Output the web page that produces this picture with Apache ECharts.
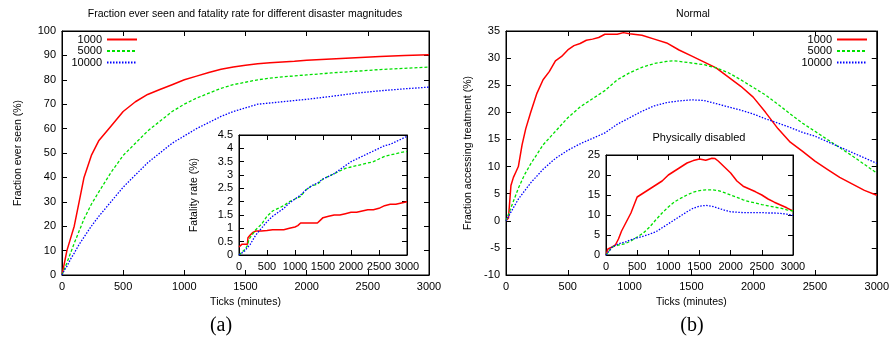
<!DOCTYPE html>
<html>
<head>
<meta charset="utf-8">
<script src="https://cdn.jsdelivr.net/npm/echarts@6/dist/echarts.min.js"></script>
<style>
    html, body { margin: 0; padding: 0; background: #fff; }
    #chart { width: 892px; height: 343px; }
</style>
</head>
<body>
<div id="chart"></div>
<script>
// (a) fraction ever seen, [ticks, %]
const seen1000 = [[0,0],[20,5],[40,10],[70,15],[100,20],[140,30],[180,40],[240,49],[300,55],[400,61],[500,67],[600,71],[700,74],[800,76],[900,78],[1000,80],[1100,81.5],[1200,83],[1300,84.3],[1400,85.2],[1500,86],[1600,86.6],[1700,87],[1800,87.3],[1900,87.6],[2000,88],[2200,88.5],[2400,89],[2600,89.5],[2800,90],[3000,90.3]];
const seen5000 = [[0,0],[20,2.5],[40,5],[70,9],[100,13],[140,18],[180,23],[240,29],[300,34],[400,42],[500,49],[600,54],[700,59],[800,63],[900,67],[1000,70],[1100,72.5],[1200,74.5],[1300,76.5],[1400,78],[1500,79],[1600,80],[1700,80.7],[1800,81.2],[1900,81.6],[2000,82],[2200,82.8],[2400,83.5],[2600,84.2],[2800,84.7],[3000,85.2]];
const seen10000 = [[0,0],[20,2],[40,3.5],[70,6.5],[100,9],[140,12.5],[180,15.5],[240,20],[300,24],[400,30],[500,36],[600,41],[700,46],[800,50],[900,54],[1000,57],[1100,60],[1200,62.5],[1300,65],[1400,67],[1500,68.5],[1600,70],[1700,70.5],[1800,71],[1900,71.5],[2000,72],[2200,73.2],[2400,74.5],[2600,75.5],[2800,76.3],[3000,77]];

// (a) inset: fatality rate
const fatal1000 = [[0,0.3],[20,0.35],[50,0.4],[150,0.4],[160,0.65],[200,0.75],[250,0.85],[300,0.9],[400,0.9],[500,0.92],[600,0.95],[800,0.95],[900,1.0],[1000,1.05],[1050,1.1],[1100,1.2],[1200,1.2],[1400,1.2],[1450,1.3],[1500,1.4],[1600,1.45],[1700,1.5],[1800,1.5],[1900,1.55],[2000,1.6],[2100,1.6],[2200,1.65],[2300,1.7],[2400,1.7],[2500,1.75],[2600,1.85],[2700,1.9],[2800,1.9],[2900,1.95],[3000,2.0]];
const fatal5000 = [[0,0],[100,0.2],[150,0.35],[180,0.6],[250,0.8],[300,0.95],[400,1.15],[500,1.45],[600,1.65],[700,1.75],[800,1.85],[900,2.0],[1000,2.1],[1100,2.2],[1200,2.45],[1300,2.6],[1400,2.65],[1500,2.85],[1600,2.95],[1700,3.05],[1800,3.15],[1900,3.25],[2000,3.3],[2100,3.35],[2200,3.4],[2300,3.45],[2400,3.5],[2500,3.6],[2600,3.7],[2700,3.75],[2800,3.8],[2900,3.85],[3000,3.88]];
const fatal10000 = [[0,0],[100,0.15],[200,0.4],[300,0.75],[400,1.0],[500,1.25],[600,1.45],[700,1.6],[800,1.75],[900,1.95],[1000,2.1],[1100,2.25],[1200,2.45],[1300,2.6],[1400,2.7],[1500,2.85],[1600,2.95],[1700,3.05],[1800,3.2],[1900,3.35],[2000,3.5],[2100,3.6],[2200,3.7],[2300,3.8],[2400,3.9],[2500,4.0],[2600,4.1],[2700,4.15],[2800,4.25],[2900,4.35],[3000,4.45]];

// (b) normal: fraction accessing treatment
const normal1000 = [[0,0],[20,0.5],[40,6.5],[60,8],[80,9],[100,10],[130,14],[160,17],[200,20],[250,23.5],[300,26],[350,27.5],[400,29.5],[450,30.3],[500,31.5],[550,32.3],[600,32.7],[650,33.3],[700,33.5],[750,33.8],[800,34.4],[900,34.4],[950,34.7],[1000,34.5],[1100,34.2],[1200,33.5],[1300,32.8],[1400,31.5],[1500,30.4],[1600,29.3],[1700,28.2],[1800,26.5],[1900,24.8],[2000,22.8],[2100,20],[2200,17],[2300,14.5],[2400,12.8],[2500,11],[2600,9.5],[2700,8],[2800,6.8],[2900,5.6],[3000,4.7]];
const normal5000 = [[0,0],[50,3],[100,6],[150,8.5],[200,10.5],[300,14],[400,16.5],[500,19],[600,21],[700,22.5],[800,24],[900,26],[1000,27.3],[1100,28.3],[1200,29],[1300,29.4],[1350,29.5],[1400,29.4],[1500,29.1],[1600,28.8],[1700,28.2],[1800,27.3],[1900,26],[2000,24.6],[2100,23.2],[2200,21.5],[2300,19.7],[2400,18],[2500,16.5],[2600,15],[2700,13.5],[2800,12],[2900,10.4],[3000,8.8]];
const normal10000 = [[0,0],[50,2],[100,4],[200,7],[300,9.5],[400,11.5],[500,13],[600,14.2],[700,15.2],[800,16.2],[900,17.8],[1000,19],[1100,20.2],[1200,21.2],[1300,21.8],[1400,22.1],[1500,22.3],[1600,22.2],[1700,21.6],[1800,21],[1900,20.4],[2000,19.7],[2100,18.8],[2200,18],[2300,17.2],[2400,16.3],[2500,15.6],[2600,14.6],[2700,13.6],[2800,12.6],[2900,11.6],[3000,10.6]];

// (b) inset: physically disabled
const disabled1000 = [[0,0],[30,1.5],[60,2],[100,2],[150,2.5],[200,4],[250,6],[300,7.5],[350,9],[400,10.5],[450,12.5],[500,14.5],[550,15],[600,15.5],[700,16.5],[800,17.5],[900,18.5],[1000,20],[1100,21],[1200,22],[1300,23],[1400,23.6],[1500,24],[1600,23.7],[1700,24.2],[1750,24.1],[1800,23.5],[1900,22],[2000,20.5],[2100,18.5],[2200,17.2],[2300,16.5],[2400,15.8],[2500,15],[2600,14],[2700,13.2],[2800,12.5],[2900,11.8],[3000,11]];
const disabled5000 = [[0,0],[100,2],[200,2.5],[300,2.8],[400,3.5],[500,4.5],[600,5.5],[700,7],[800,8.8],[900,10.5],[1000,12],[1100,13.3],[1200,14.2],[1300,15],[1400,15.7],[1500,16.1],[1600,16.3],[1700,16.3],[1800,16.1],[1900,15.6],[2000,15],[2100,14.4],[2200,13.8],[2300,13.3],[2400,13],[2500,12.6],[2600,12.3],[2700,12],[2800,11.7],[2900,11.3],[3000,11]];
const disabled10000 = [[0,0],[100,2],[200,2.8],[300,3.2],[400,3.8],[500,4.3],[600,4.7],[700,5.2],[800,5.8],[900,6.8],[1000,7.8],[1100,8.8],[1200,9.8],[1300,10.8],[1400,11.7],[1500,12.2],[1600,12.4],[1700,12.2],[1800,11.7],[1900,11.2],[2000,10.8],[2100,10.7],[2200,10.6],[2300,10.6],[2400,10.6],[2500,10.6],[2600,10.5],[2700,10.5],[2800,10.4],[2900,10.2],[3000,9.9]];

const names = ['1000', '5000', '10000'];

const FONT = '"Liberation Sans", Arial, sans-serif';
const lineStyles = [
    { color: '#ff0000', width: 1.5, type: 'solid' },
    { color: '#00e000', width: 1.3, type: [3, 2] },
    { color: '#0000ff', width: 1.3, type: [1.5, 1.5] }
];

const grids = [
    { left: 62, top: 31, width: 367, height: 244 },
    { left: 239, top: 135, width: 168, height: 120 },
    { left: 506, top: 31, width: 375, height: 244 },
    { left: 606, top: 155, width: 187, height: 100 }
];

const plain = function (v) { return String(v); };

function makeX(g, top, name) {
    return {
        type: 'value', gridIndex: g, min: 0, max: 3000, interval: 500,
        position: top ? 'top' : 'bottom',
        axisLine: { show: true, onZero: false, lineStyle: { color: '#000', width: 1 } },
        axisTick: { show: true, inside: true, length: 5, lineStyle: { color: '#000' } },
        axisLabel: { show: !top, color: '#000', fontSize: 11, fontFamily: FONT, margin: 6, formatter: plain },
        splitLine: { show: false },
        name: top ? '' : (name || ''), nameLocation: 'middle', nameGap: 22,
        nameTextStyle: { color: '#000', fontSize: 10.5, fontFamily: FONT }
    };
}

function makeY(g, right, min, max, interval, name, gap) {
    return {
        type: 'value', gridIndex: g, min: min, max: max, interval: interval,
        position: right ? 'right' : 'left',
        axisLine: { show: true, onZero: false, lineStyle: { color: '#000', width: 1 } },
        axisTick: { show: true, inside: true, length: 5, lineStyle: { color: '#000' } },
        axisLabel: { show: !right, color: '#000', fontSize: 11, fontFamily: FONT, margin: 6, formatter: plain },
        splitLine: { show: false },
        name: right ? '' : (name || ''), nameLocation: 'middle', nameGap: gap || 30,
        nameTextStyle: { color: '#000', fontSize: 10.5, fontFamily: FONT }
    };
}

const xAxes = [
    makeX(0, false, 'Ticks (minutes)'), makeX(0, true),
    makeX(1, false), makeX(1, true),
    makeX(2, false, 'Ticks (minutes)'), makeX(2, true),
    makeX(3, false), makeX(3, true)
];
const yAxes = [
    makeY(0, false, 0, 100, 10, 'Fraction ever seen (%)', 38), makeY(0, true, 0, 100, 10),
    makeY(1, false, 0, 4.5, 0.5, 'Fatality rate (%)', 39), makeY(1, true, 0, 4.5, 0.5),
    makeY(2, false, -10, 35, 5, 'Fraction accessing treatment (%)', 32), makeY(2, true, -10, 35, 5),
    makeY(3, false, 0, 25, 5), makeY(3, true, 0, 25, 5)
];

const panels = [
    [seen1000, seen5000, seen10000],
    [fatal1000, fatal5000, fatal10000],
    [normal1000, normal5000, normal10000],
    [disabled1000, disabled5000, disabled10000]
];

const series = [];
panels.forEach(function (panel, g) {
    panel.forEach(function (data, i) {
        series.push({
            name: names[i], type: 'line', data: data,
            xAxisIndex: g * 2, yAxisIndex: g * 2,
            symbol: 'none', showSymbol: false, smooth: false,
            lineStyle: lineStyles[i], itemStyle: { color: lineStyles[i].color },
            z: g % 2 === 1 ? 5 : 2
        });
    });
});

// one legend per entry so text is right-aligned like gnuplot keys
const legends = [];
[754, 24].forEach(function (r) {
    names.forEach(function (n, i) {
        legends.push({
            data: [n], right: r, top: 34 + i * 11.5, padding: 0, align: 'right',
            itemWidth: 30, itemHeight: 10, selectedMode: false,
            itemStyle: { opacity: 0 },
            textStyle: { color: '#000', fontSize: 11, fontFamily: FONT }
        });
    });
});

function label(text, x, y, font) {
    return {
        type: 'text', x: x, y: y, z: 10,
        style: { text: text, font: font, fill: '#000', align: 'center', verticalAlign: 'middle' }
    };
}

const chart = echarts.init(document.getElementById('chart'));
chart.setOption({
    animation: false,
    backgroundColor: '#fff',
    grid: grids.map(function (g) { return Object.assign({ show: true, borderColor: '#000', borderWidth: 1, backgroundColor: '#fff' }, g); }),
    xAxis: xAxes,
    yAxis: yAxes,
    legend: legends,
    series: series,
    graphic: [
        label('Fraction ever seen and fatality rate for different disaster magnitudes', 245, 14, '10.5px ' + FONT),
        label('Normal', 693, 14, '10.5px ' + FONT),
        label('Physically disabled', 699, 138, '11px ' + FONT),
        label('(a)', 221, 326, '20px "Liberation Serif", "DejaVu Serif", serif'),
        label('(b)', 692, 326, '20px "Liberation Serif", "DejaVu Serif", serif')
    ]
});
</script>
</body>
</html>
